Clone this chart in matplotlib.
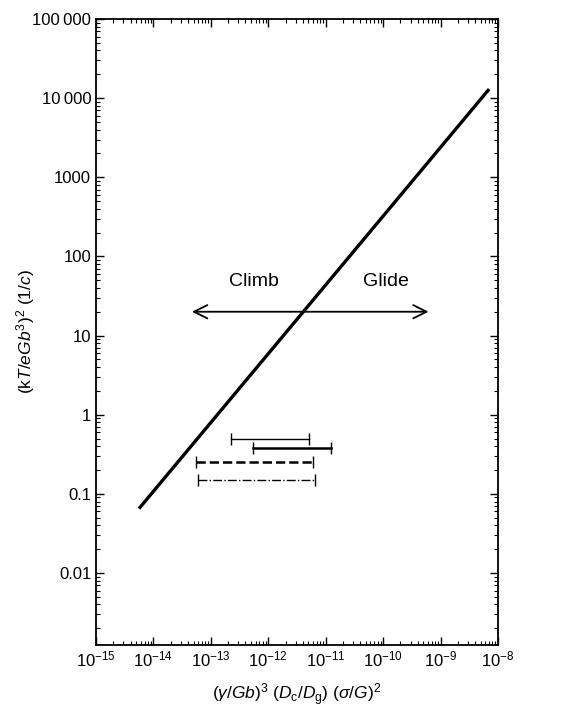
import matplotlib
matplotlib.use("Agg")
import matplotlib.pyplot as plt
from matplotlib.ticker import LogLocator, FixedLocator, FixedFormatter, NullFormatter

plt.rcParams['font.family'] = ['Liberation Sans', 'DejaVu Sans']
plt.rcParams['mathtext.fontset'] = 'custom'
plt.rcParams['mathtext.rm'] = 'Liberation Sans'
plt.rcParams['mathtext.it'] = 'Liberation Sans:italic'
plt.rcParams['mathtext.bf'] = 'Liberation Sans:bold'

# climb / glide boundary line (end points)
line_x = [5.6e-15, 7e-9]
line_y = [0.065, 1.3e4]

# arrow and labels
arrow_x = [4.2e-14, 6.9e-10]
arrow_y = 20
climb_pos = (5.6e-13, 48)
glide_pos = (1.1e-10, 48)

# experimental ranges (left, right, y)
bar_left = [2.2e-13, 5.5e-13, 5.6e-14, 5.9e-14]
bar_right = [5.2e-12, 1.26e-11, 5.9e-12, 6.6e-12]
bar_y = [0.50, 0.38, 0.25, 0.15]
bar_styles = ['-', '-', '--', '-.']
bar_widths = [1.0, 1.8, 1.8, 1.0]

ytick_vals = [0.01, 0.1, 1, 10, 100, 1000, 10000, 100000]
ytick_labels = ['0.01', '0.1', '1', '10', '100', '1000', '10\u2009000', '100\u2009000']

fig = plt.figure(figsize=(5.86, 7.13), dpi=100)
ax = fig.add_axes([96 / 586, 1 - 645 / 713, (498 - 96) / 586, (645 - 19) / 713])
ax.set_xscale('log')
ax.set_yscale('log')
ax.set_xlim(1e-15, 1e-8)
ax.set_ylim(0.00123, 1e5)

ax.plot(line_x, line_y, color='black', lw=2.4, solid_capstyle='butt')

ax.annotate('', xy=(arrow_x[0], arrow_y), xytext=(arrow_x[1], arrow_y),
            arrowprops=dict(arrowstyle='<->', color='black', lw=1.3,
                            mutation_scale=24))
ax.text(*climb_pos, 'Climb', ha='center', va='center', fontsize=14)
ax.text(*glide_pos, 'Glide', ha='center', va='center', fontsize=14)

for l, r, y, ls, w in zip(bar_left, bar_right, bar_y, bar_styles, bar_widths):
    ax.plot([l, r], [y, y], color='black', ls=ls, lw=w)
    ax.plot([l, r], [y, y], color='black', ls='none', marker='|', ms=9, mew=1.0)

ax.yaxis.set_major_locator(FixedLocator(ytick_vals))
ax.yaxis.set_major_formatter(FixedFormatter(ytick_labels))
ax.yaxis.set_minor_locator(LogLocator(base=10, subs=range(2, 10), numticks=20))
ax.yaxis.set_minor_formatter(NullFormatter())
ax.xaxis.set_major_locator(LogLocator(base=10, numticks=20))
ax.xaxis.set_minor_locator(LogLocator(base=10, subs=range(2, 10), numticks=20))
ax.xaxis.set_minor_formatter(NullFormatter())

ax.tick_params(which='both', direction='in', top=True, right=True, labelsize=12)
ax.tick_params(which='major', length=6, width=1)
ax.tick_params(which='minor', length=3, width=0.8)
for s in ax.spines.values():
    s.set_linewidth(1.3)

ax.set_xlabel(r'$(\gamma/Gb)^3\ (D_\mathrm{c}/D_\mathrm{g})\ (\sigma/G)^2$', fontsize=12.5)
ax.set_ylabel(r'$(\mathrm{k}T/eGb^3)^2\ (1/c)$', fontsize=12.5)
ax.xaxis.set_label_coords(0.5, -0.058)
ax.yaxis.set_label_coords(-0.148, 0.5)

fig.savefig('out.png', dpi=100)
